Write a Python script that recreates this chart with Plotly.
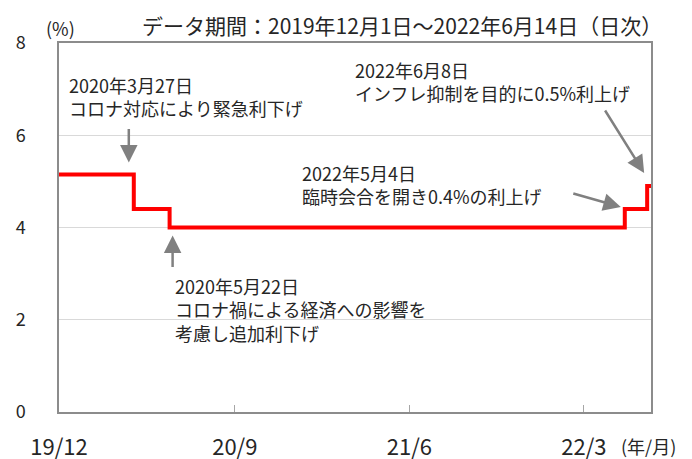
import plotly.graph_objects as go

# ---- data ----
dates = ["2019-12-01", "2020-03-27", "2020-05-22", "2022-05-04", "2022-06-08", "2022-06-14"]
rates = [5.15, 4.40, 4.00, 4.40, 4.90, 4.90]

tick_dates = ["2019-12-01", "2020-09-01", "2021-06-01", "2022-03-01"]
tick_labels = ["19/12", "20/9", "21/6", "22/3"]

y_ticks = [0, 2, 4, 6, 8]

events = ["2020-03-27", "2020-05-22", "2022-05-04", "2022-06-08"]
event_levels = [5.15, 4.00, 4.40, 4.90]
event_texts = [
    "2020年3月27日<br>コロナ対応により緊急利下げ",
    "2020年5月22日<br>コロナ禍による経済への影響を<br>考慮し追加利下げ",
    "2022年5月4日<br>臨時会合を開き0.4%の利上げ",
    "2022年6月8日<br>インフレ抑制を目的に0.5%利上げ",
]

FONT = "Noto Sans CJK JP"
TXT = "#262626"
GRAY = "#808080"

fig = go.Figure()
fig.add_trace(go.Scatter(
    x=dates, y=rates, mode="lines", line=dict(color="#ff0000", width=4, shape="hv"),
    showlegend=False, hoverinfo="skip",
))

# plot area in pixels: left 59, right 651, top 43, bottom 412
L, R, T, B = 59, 651, 43, 412
def px(x):
    return (x - L) / (R - L)
def py(y):
    return (B - y) / (B - T)

annotations = []
# arrows (tip anchored to event, offsets in px)
arrow_style = [
    dict(xshift=-5, yshift=12, ax=0, ay=-35),
    dict(xshift=3, yshift=-8, ax=0, ay=33),
    dict(xshift=-4, yshift=2, ax=-49, ay=-14),
    dict(xshift=-3, yshift=13, ax=-40, ay=-64),
]
for d, v, st in zip(events, event_levels, arrow_style):
    annotations.append(dict(
        x=d, y=v, xref="x", yref="y", text="", showarrow=True,
        arrowhead=2, arrowsize=1.4, arrowwidth=2.5, arrowcolor=GRAY,
        standoff=0, **st,
    ))

# text blocks (left px, center px)
text_pos = [(67, 96), (173, 309), (300, 184), (353, 81)]
for t, (xp, yp) in zip(event_texts, text_pos):
    annotations.append(dict(
        x=px(xp), y=py(yp), xref="paper", yref="paper", text=t, showarrow=False,
        xanchor="left", yanchor="middle", align="left",
        font=dict(family=FONT, size=18, color=TXT),
    ))

annotations.append(dict(
    x=px(402), y=py(25), xref="paper", yref="paper",
    text="データ期間：2019年12月1日～2022年6月14日（日次）", showarrow=False,
    xanchor="center", yanchor="middle", font=dict(family=FONT, size=21, color=TXT),
))
annotations.append(dict(
    x=px(60), y=py(28), xref="paper", yref="paper", text="(%)", showarrow=False,
    xanchor="center", yanchor="middle", font=dict(family=FONT, size=18, color=TXT),
))
annotations.append(dict(
    x=px(648), y=py(446), xref="paper", yref="paper", text="(年/月)", showarrow=False,
    xanchor="center", yanchor="middle", font=dict(family=FONT, size=18, color=TXT),
))

fig.update_layout(
    width=692, height=459,
    margin=dict(l=L, r=692 - R, t=T, b=459 - B, pad=0, autoexpand=False),
    paper_bgcolor="white", plot_bgcolor="white",
    font=dict(family=FONT, color=TXT),
    annotations=annotations,
    showlegend=False,
)
fig.update_xaxes(
    type="date", range=["2019-12-01", "2022-06-14"],
    tickvals=tick_dates, ticktext=tick_labels,
    ticks="inside", ticklen=7, tickcolor="#a6a6a6", tickwidth=1,
    showgrid=False, zeroline=False, automargin=False,
    showline=True, linecolor="#8c8c8c", linewidth=1.5, mirror=True,
    tickfont=dict(family=FONT, size=22, color=TXT), ticklabelstandoff=15,
)
fig.update_yaxes(
    range=[0, 8], tickvals=y_ticks,
    ticks="", showgrid=True, gridcolor="#d9d9d9", gridwidth=1,
    zeroline=False, automargin=False,
    showline=True, linecolor="#8c8c8c", linewidth=1.5, mirror=True,
    tickfont=dict(family=FONT, size=18, color=TXT), ticklabelstandoff=28,
)

fig.write_html(
    "out.html",
    config={"displayModeBar": False},
    post_script="document.body.style.margin='0';document.body.style.overflow='hidden';",
)
